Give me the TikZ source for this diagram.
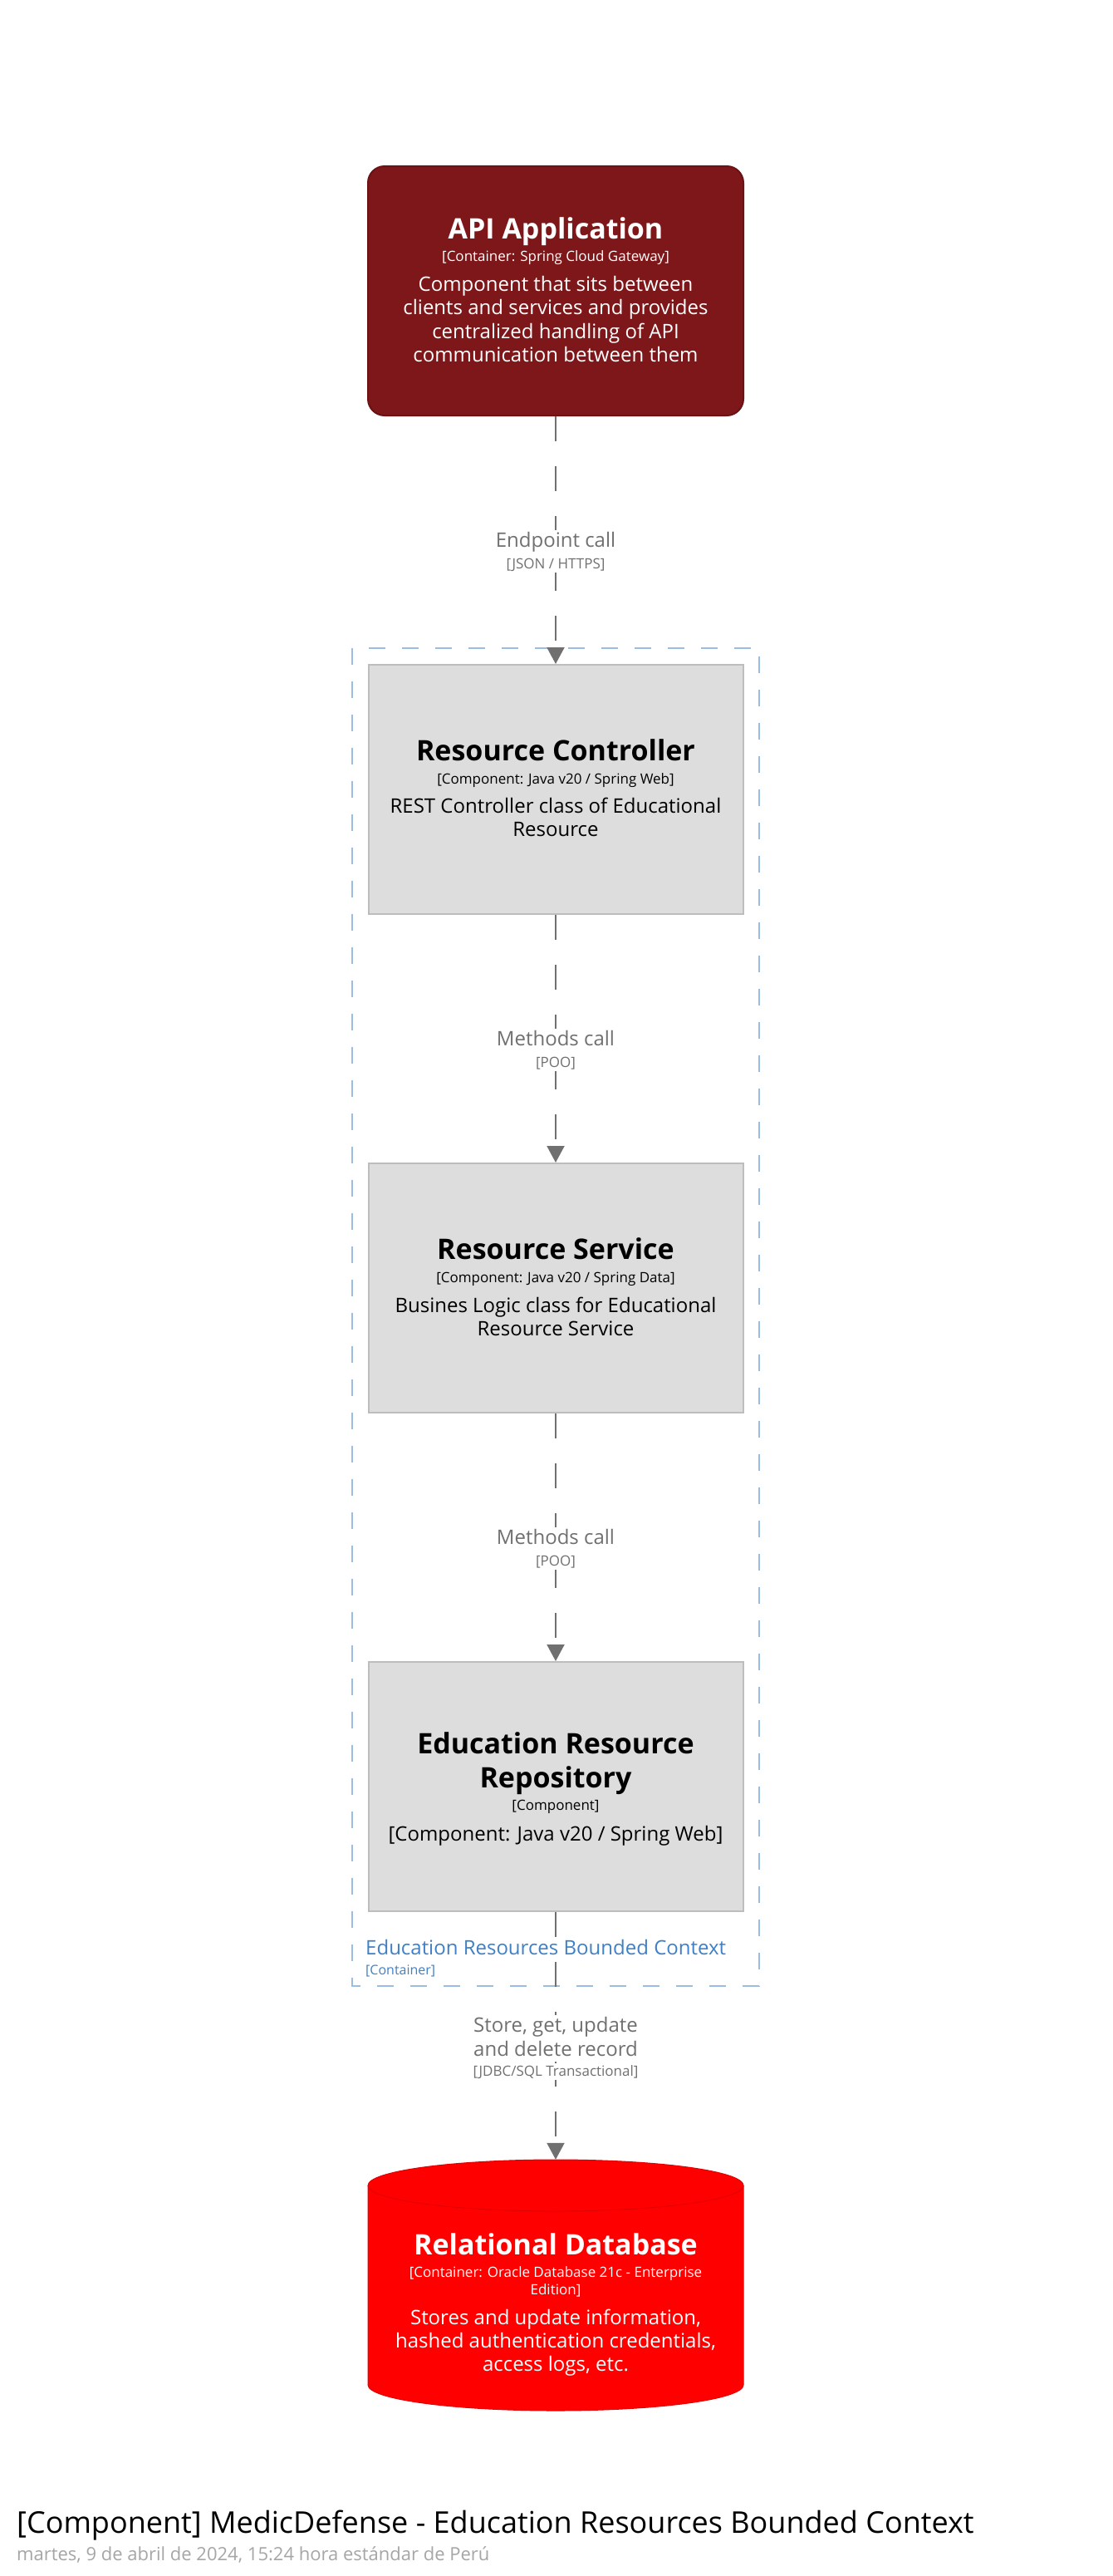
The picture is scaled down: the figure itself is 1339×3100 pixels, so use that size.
\documentclass[tikz,border=0pt]{standalone}
\usepackage{fontspec}
\setmainfont{Open Sans}
\usetikzlibrary{arrows.meta}
\definecolor{apired}{HTML}{7D1719}
\definecolor{apiborder}{HTML}{6A1214}
\definecolor{compfill}{HTML}{DDDDDD}
\definecolor{compborder}{HTML}{BDBDBD}
\definecolor{dbred}{HTML}{FF0000}
\definecolor{dbborder}{HTML}{E40000}
\definecolor{relgray}{HTML}{707070}
\definecolor{bndblue}{HTML}{9BBDE2}
\definecolor{bndtext}{HTML}{3F80C6}
\definecolor{dategray}{HTML}{A6A6A6}
\newcommand\fsz[2]{\fontsize{#1}{#2}\selectfont}
\begin{document}
\begin{tikzpicture}[x=1pt,y=-1pt,
  box/.style={rectangle, minimum width=451pt, minimum height=300pt, inner sep=0pt, line width=2pt},
  comp/.style={box, fill=compfill, draw=compborder},
  ttl/.style={anchor=base, inner sep=0pt, font=\fsz{34}{40}\bfseries},
  meta/.style={anchor=base, inner sep=0pt, font=\fsz{17}{20}},
  desc/.style={anchor=base, inner sep=0pt, font=\fsz{24}{28}},
  rel/.style={draw=relgray, line width=2pt, dash pattern=on 30pt off 30pt, -{Triangle[width=21pt,length=20pt,fill=relgray]}},
  rlbl/.style={anchor=base, fill=white, inner sep=2pt, text=relgray, font=\fsz{24}{28}},
  rmeta/.style={anchor=base, fill=white, inner sep=2pt, text=relgray, font=\fsz{17}{20}}
]
\useasboundingbox (0,0) rectangle (1339,3100);
\fill[white] (0,0) rectangle (1339,3100);

% boundary
\draw[bndblue, line width=2pt, dash pattern=on 20pt off 20pt] (424,780) rectangle (914,2390);
\node[anchor=base west, inner sep=0pt, text=bndtext, font=\fsz{24}{28}] (bndT) at (440,2352) {Education Resources Bounded Context};
\node[anchor=base west, inner sep=0pt, text=bndtext, font=\fsz{16}{20}] (bndM) at (440,2376) {[Container]};

% API
\node[box, minimum width=452pt, rounded corners=20pt, fill=apired, draw=apiborder] (api) at (669,350) {};
\begin{scope}[every node/.append style={text=white}]
\node[ttl] (apiT) at (669,287) {API Application};
\node[meta] (apiM) at (669,314) {[Container: Spring Cloud Gateway]};
\node[desc] (apiD1) at (669,350) {Component that sits between};
\node[desc] (apiD2) at (669,378.5) {clients and services and provides};
\node[desc] (apiD3) at (669,407) {centralized handling of API};
\node[desc] (apiD4) at (669,435.5) {communication between them};
\end{scope}

% Controller
\node[comp] (ctrl) at (669,950) {};
\node[ttl] (ctrlT) at (669,915) {Resource Controller};
\node[meta] (ctrlM) at (669,943) {[Component: Java v20 / Spring Web]};
\node[desc] (ctrlD1) at (669,978) {REST Controller class of Educational};
\node[desc] (ctrlD2) at (669,1006) {Resource};

% Service
\node[comp] (svc) at (669,1550) {};
\node[ttl] (svcT) at (669,1515) {Resource Service};
\node[meta] (svcM) at (669,1543) {[Component: Java v20 / Spring Data]};
\node[desc] (svcD1) at (669,1579) {Busines Logic class for Educational};
\node[desc] (svcD2) at (669,1607) {Resource Service};

% Repository
\node[comp] (repo) at (669,2150) {};
\node[ttl] (repoT1) at (669,2110) {Education Resource};
\node[ttl] (repoT2) at (669,2151) {Repository};
\node[meta] (repoM) at (669,2178) {[Component]};
\node[desc] (repoD) at (669,2215) {[Component: Java v20 / Spring Web]};

% Database
\node[rectangle, minimum width=452pt, minimum height=302pt, inner sep=0pt] (db) at (669,2750) {};
\filldraw[fill=dbred, draw=dbborder, line width=1pt]
  (443,2630) arc[start angle=180, end angle=0, x radius=226pt, y radius=31pt]
  -- (895,2870) arc[start angle=0, end angle=-180, x radius=226pt, y radius=31pt] -- cycle;
\draw[dbborder, line width=1pt] (443,2630) arc[start angle=180, end angle=360, x radius=226pt, y radius=31pt];
\begin{scope}[every node/.append style={text=white}]
\node[ttl] (dbT) at (669,2713) {Relational Database};
\node[meta] (dbM1) at (669,2740) {[Container: Oracle Database 21c - Enterprise};
\node[meta] (dbM2) at (669,2761) {Edition]};
\node[desc] (dbD1) at (669,2797) {Stores and update information,};
\node[desc] (dbD2) at (669,2825) {hashed authentication credentials,};
\node[desc] (dbD3) at (669,2853) {access logs, etc.};
\end{scope}

% relations
\draw[rel] (api.south) -- (ctrl.north);
\draw[rel] (ctrl.south) -- (svc.north);
\draw[rel] (svc.south) -- (repo.north);
\draw[rel] (repo.south) -- (db.north);

\node[rlbl] (r1a) at (669,658) {Endpoint call};
\node[rmeta] (r1b) at (669,684) {[JSON / HTTPS]};
\node[rlbl] (r2a) at (669,1258) {Methods call};
\node[rmeta] (r2b) at (669,1284) {[POO]};
\node[rlbl] (r3a) at (669,1858) {Methods call};
\node[rmeta] (r3b) at (669,1884) {[POO]};
\node[rlbl] (r4a) at (669,2445) {Store, get, update};
\node[rlbl] (r4b) at (669,2474) {and delete record};
\node[rmeta] (r4c) at (669,2498) {[JDBC/SQL Transactional]};

% footer
\node[anchor=base west, inner sep=0pt, font=\fsz{36}{40}] (title) at (20,3048) {[Component] MedicDefense - Education Resources Bounded Context};
\node[anchor=base west, inner sep=0pt, text=dategray, font=\fsz{22}{26}] (date) at (20,3081) {martes, 9 de abril de 2024, 15:24 hora estándar de Perú};
\end{tikzpicture}
\end{document}
